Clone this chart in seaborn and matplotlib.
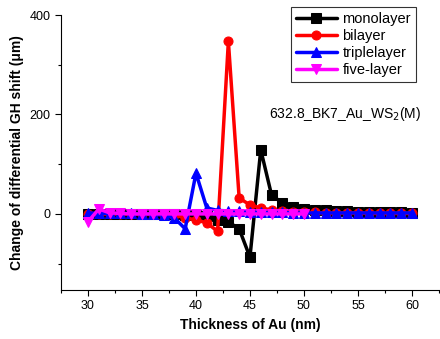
import numpy as np
import matplotlib
matplotlib.use("Agg")
import matplotlib.pyplot as plt
import pandas as pd
import seaborn as sns
from matplotlib.ticker import MultipleLocator

thick = list(range(30, 61))
thick5 = list(range(30, 51))

mono = [0, 0, 0, 0, 0, 0, 0, 0, -1, -2, -3, -5, -12, -16, -30, -87, 129, 38, 22, 14,
        10, 8, 7, 6, 5, 4, 4, 3, 3, 3, 2]
bi = [0, 0, 0, 0, 0, 0, 0, 0, -2, -8, -12, -18, -35, 347, 32, 18, 12, 8, 5, 4,
      3, 3, 2, 2, 2, 2, 1, 1, 1, 1, 1]
triple = [2, 1, 1, 1, 1, 0, 0, -3, -8, -30, 82, 12, 7, 6, 5, 4, 3, 3, 3, 2,
          2, 2, 2, 2, 2, 2, 2, 2, 2, 2, 2]
five = [-16, 10, 2, 1, 0, 0, 0, 0, 0, 0, 0, 0, 0, 0, 0, 0, 0, 0, 0, 0, 0]

series = [
    ("monolayer", thick, mono, "black", "s"),
    ("bilayer", thick, bi, "red", "o"),
    ("triplelayer", thick, triple, "blue", "^"),
    ("five-layer", thick5, five, "magenta", "v"),
]

sns.set_style("ticks")
plt.rcParams["font.family"] = ["Liberation Sans", "DejaVu Sans"]
plt.rcParams["text.color"] = "black"
plt.rcParams["axes.labelcolor"] = "black"
plt.rcParams["xtick.color"] = "black"
plt.rcParams["ytick.color"] = "black"
plt.rcParams["axes.edgecolor"] = "black"

fig = plt.figure(figsize=(4.40, 3.39), dpi=100)
ax = fig.add_axes([61 / 440, 49 / 339, 379 / 440, 275 / 339])

for name, xs, ys, col, mk in series:
    df = pd.DataFrame({"x": xs, "y": ys})
    sns.lineplot(data=df, x="x", y="y", ax=ax, color=col, marker=mk, markersize=6.5,
                 linewidth=2.5, markeredgecolor=col, label=name)

ax.set_xlim(27.5, 62.6)
ax.set_ylim(-153, 400)
ax.xaxis.set_major_locator(MultipleLocator(5))
ax.xaxis.set_minor_locator(MultipleLocator(2.5))
ax.yaxis.set_major_locator(MultipleLocator(200))
ax.yaxis.set_minor_locator(MultipleLocator(100))
ax.tick_params(which="major", length=4, width=0.8, labelsize=9, direction="out")
ax.tick_params(which="minor", length=2.5, width=0.8, direction="out")
sns.despine(ax=ax)
for s in ax.spines.values():
    s.set_linewidth(0.8)

ax.set_xlabel("Thickness of Au (nm)", fontsize=10, fontweight="bold")
ax.set_ylabel("Change of differential GH shift (\u03bcm)", fontsize=10, fontweight="bold")

ax.text(0.548, 0.625, "632.8_BK7_Au_WS$_2$(M)", transform=ax.transAxes, fontsize=10)

leg = ax.legend(loc="upper right", bbox_to_anchor=(416 / 440, 1 - 7 / 339),
                bbox_transform=fig.transFigure, borderaxespad=0, fontsize=10.5,
                handlelength=2.8, frameon=True, fancybox=False, borderpad=0.35,
                labelspacing=0.2, handletextpad=0.4)
leg.get_frame().set_edgecolor("black")
leg.get_frame().set_linewidth(0.8)

fig.savefig("out.png", dpi=100)
